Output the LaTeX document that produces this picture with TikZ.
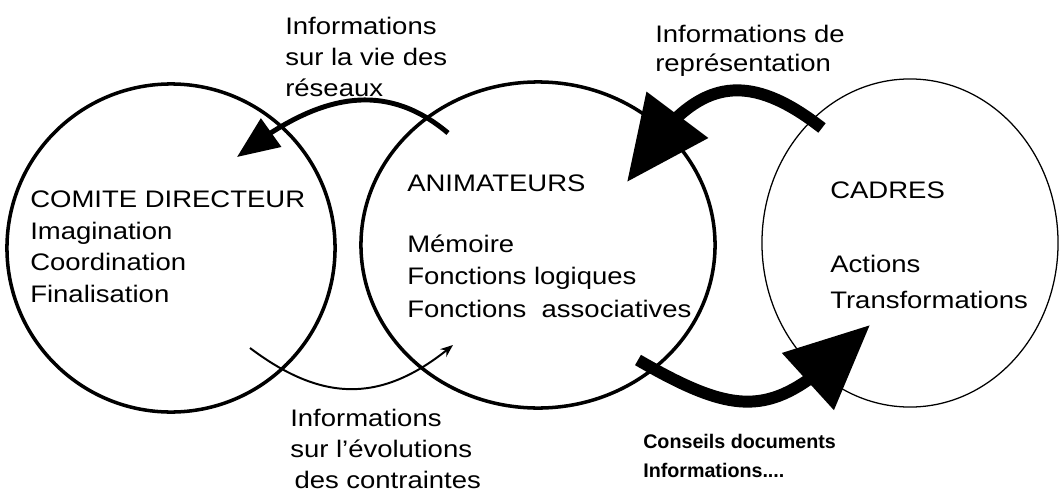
\documentclass[tikz,border=0pt]{standalone}
\usepackage{fontspec}
\setmainfont{Liberation Sans}[FakeStretch=1.15]
\newfontfamily\narrowfont{Liberation Sans}
\usetikzlibrary{shapes.geometric,arrows.meta,bending}

\begin{document}
\begin{tikzpicture}[x=0.025cm,y=0.025cm,
  ring/.style={draw,ellipse,inner sep=0pt,line width=2.5pt},
  thinring/.style={draw,ellipse,inner sep=0pt,line width=0.9pt},
  bloc/.style={anchor=base west,inner sep=0pt,align=left,font=\fontsize{17}{21.7}\selectfont},
  thinarrow/.style={line width=1.4pt,-{Stealth[length=9pt,width=7pt]}},
  midarrow/.style={line width=3.5pt,-{Triangle[length=1.05cm,width=0.85cm]}},
  fatarrow/.style={line width=8.5pt,-{Triangle[length=2.1cm,width=1.85cm]}}]
\useasboundingbox (0,0) rectangle (1061,-493);

% les trois cercles
\node[ring,minimum width=8.2cm,minimum height=8.2cm] (comite) at (171,-248) {};
\node[ring,minimum width=8.85cm,minimum height=8.15cm] (animateurs) at (538,-245) {};
\node[thinring,minimum width=7.4cm,minimum height=8.2cm] (cadres) at (910,-243) {};

% textes des cercles (ancre = ligne de base de la derniere ligne)
\node[bloc,font=\fontsize{17}{22.3}\selectfont] (tcomite) at (30,-302) {COMITE DIRECTEUR\\Imagination\\Coordination\\Finalisation};
\node[bloc,font=\fontsize{17}{22.8}\selectfont] (tanim) at (407,-317) {ANIMATEURS\\[20.6pt]M\'emoire\\Fonctions logiques\\Fonctions\ \ associatives};
\node[bloc,font=\fontsize{17}{24.9}\selectfont] (tcadres) at (830,-308) {CADRES\\[28.4pt]Actions\\Transformations};

% legendes des fleches
\node[bloc] (lvie) at (285,-96) {Informations\\sur la vie des\\r\'eseaux};
\node[bloc,font=\fontsize{17}{20.6}\selectfont] (lrep) at (655,-71) {Informations de\\repr\'esentation};
\node[bloc] (levo) at (290,-488) {Informations\\sur l'\'evolutions\\\hspace*{3pt}des contraintes};
\node[bloc,font=\narrowfont\bfseries\fontsize{14}{20.6}\selectfont] (lcons) at (643,-477) {Conseils documents\\Informations....};

% extremites des fleches
\coordinate (vieA) at (448,-133);
\coordinate (vieB) at (237,-157);
\coordinate (repA) at (822,-128);
\coordinate (repB) at (627,-182);
\coordinate (evoA) at (250,-348);
\coordinate (evoB) at (453,-345);
\coordinate (consA) at (638,-360);
\coordinate (consB) at (870,-325);

\draw[midarrow] (vieA) to[out=140,in=38,looseness=1.1] (vieB);
\draw[fatarrow] (repA) to[out=142,in=58,looseness=1.4] (repB);
\draw[thinarrow] (evoA) to[out=-37,in=220,looseness=1.15] (evoB);
\draw[fatarrow] (consA) to[out=-30,in=225,looseness=1.4] (consB);
\end{tikzpicture}
\end{document}
